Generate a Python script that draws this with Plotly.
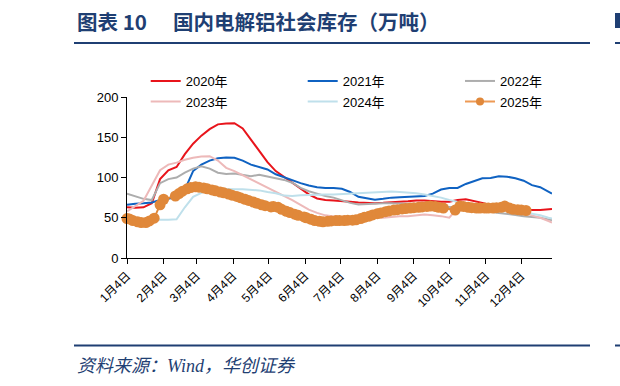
import plotly.graph_objects as go

# ---------------- data ----------------
WEEK_DATES = ["01-04", "01-11", "01-18", "01-25", "02-01", "02-08", "02-15", "02-22",
              "03-01", "03-08", "03-15", "03-22", "03-29", "04-05", "04-12", "04-19",
              "04-26", "05-03", "05-10", "05-17", "05-24", "05-31", "06-07", "06-14",
              "06-21", "06-28", "07-05", "07-12", "07-19", "07-26", "08-02", "08-09",
              "08-16", "08-23", "08-30", "09-06", "09-13", "09-20", "09-27", "10-04",
              "10-11", "10-18", "10-25", "11-01", "11-08", "11-15", "11-22", "11-29",
              "12-06", "12-13", "12-20", "12-27", "12-30"]

Y2020 = [63, 62.5, 63, 68, 98, 109, 113, 129, 142, 152, 160, 166, 167, 167.5, 161, 147,
         132, 119, 108, 101, 94, 86, 79, 74, 72, 71.5, 71, 70, 69, 68.5, 68, 68.5,
         69.5, 70, 70.5, 71.5, 71.5, 70.5, 70, 70, 72, 73, 71, 68.5, 66, 64,
         62.5, 61, 60, 59.5, 59.5, 60, 61]
Y2021 = [66, 67.5, 68, 69, 72, 74, 75.5, 85, 108, 116, 121, 124, 125, 124.5, 121, 116,
         113, 110, 104, 100, 96, 93, 90, 88, 87, 87, 86, 82, 76, 74, 72.5, 73.5,
         75, 75.5, 76, 76, 77, 80, 85, 87, 87, 92, 95.5, 99, 99.5, 101.5,
         101, 99, 96, 90.5, 88, 83, 80]
Y2022 = [80, 77, 73.5, 72, 93, 98, 100, 106, 111, 114, 111, 106, 104.5, 105, 103, 101.5,
         103.5, 101, 99, 97, 93.5, 87, 83, 80, 77, 75, 72, 68.5, 66.5, 67, 68, 68,
         68, 68, 67.5, 67, 66.5, 66, 64.5, 63, 62, 61, 60, 59, 57.5, 56,
         55, 53.5, 52, 51, 50, 48, 47]
Y2023 = [58, 65, 71, 90, 109, 116, 118.5, 122, 124.5, 126, 126.5, 121, 112, 108, 103, 97,
         92, 87, 82.5, 77, 72, 66, 60, 56, 53, 51.5, 50.5, 50, 50, 49.5, 50, 50,
         51, 52, 52, 53, 54, 53, 52, 50, 62, 65, 64, 63, 62, 61,
         60, 58, 56, 53, 50, 46, 44]
Y2024 = [48, 46.5, 45.5, 46.5, 47.5, 47.5, 48, 63, 76, 81, 85, 86, 85.5, 85.5, 85.5, 85,
         84, 82, 80.5, 77.5, 77, 78, 78.5, 79, 79, 79, 79.5, 79.5, 80, 80.5, 81, 82,
         82.5, 82, 81.5, 80.5, 79, 77, 75, 72, 69.5, 67, 65, 63, 62, 61,
         60, 58.5, 57, 55, 53, 50, 49]

DATES_2025 = ["01-04", "01-06", "01-09", "01-13", "01-16", "01-20", "01-23", "01-27",
              "02-01", "02-04", "02-14", "02-17", "02-20", "02-24", "02-27", "03-03",
              "03-06", "03-10", "03-13", "03-17", "03-20", "03-24", "03-27", "03-31",
              "04-03", "04-07", "04-10", "04-14", "04-17", "04-21", "04-24", "04-28",
              "05-01", "05-06", "05-08", "05-12", "05-15", "05-19", "05-22", "05-26",
              "05-29", "06-03", "06-05", "06-09", "06-12", "06-16", "06-19", "06-23",
              "06-26", "06-30", "07-03", "07-07", "07-10", "07-14", "07-17", "07-21",
              "07-24", "07-28", "07-31", "08-04", "08-07", "08-11", "08-14", "08-18",
              "08-21", "08-25", "08-28", "09-01", "09-04", "09-08", "09-11", "09-15",
              "09-18", "09-22", "09-25", "09-29", "10-09", "10-13", "10-16", "10-20",
              "10-23", "10-27", "10-30", "11-03", "11-06", "11-10", "11-13", "11-17",
              "11-20", "11-24", "11-27", "12-01", "12-04", "12-08"]
Y2025 = [49, 48.5, 46.5, 45, 44, 44, 46, 49.5,
         66, 73, 77, 80, 83, 86, 87.5, 88.5,
         88, 87, 86, 84.5, 83.5, 82, 81, 79.5,
         78, 76.5, 75, 73, 71.5, 69.5, 68, 66,
         65, 63.5, 64, 63, 60.5, 58, 56.5, 54.5,
         53, 51, 50, 48, 46.5, 45.5, 45, 45.5,
         46, 46.5, 46.5, 46.5, 47, 47, 47.5, 49,
         50.5, 52, 53.5, 55, 56, 57.5, 58.5, 59.5,
         60, 61, 61.5, 62, 62.5, 63, 63.5, 64,
         64.5, 64, 63, 62, 59.5, 64.5, 64, 63,
         62.5, 62, 62, 62, 62, 62, 62.5, 63,
         64.5, 62, 60.5, 60, 59.5, 59]

TICK_DATES = ["01-04", "02-04", "03-04", "04-04", "05-04", "06-04",
              "07-04", "08-04", "09-04", "10-04", "11-04", "12-04"]
TICK_TEXT = ["1月4日", "2月4日", "3月4日", "4月4日", "5月4日", "6月4日",
             "7月4日", "8月4日", "9月4日", "10月4日", "11月4日", "12月4日"]

SERIES = [
    ("2020年", Y2020, "#E8141B"),
    ("2021年", Y2021, "#0F62C2"),
    ("2022年", Y2022, "#ADADAD"),
    ("2023年", Y2023, "#EDB9B9"),
    ("2024年", Y2024, "#BFE0EB"),
]
ORANGE = "#E0883A"

# ---------------- layout geometry ----------------
W, H = 620, 386
ML, MR, MT, MB = 127, 68, 97, 128
PW, PH = W - ML - MR, H - MT - MB
NAVY = "#1F3F73"
FONT = "Liberation Sans, Arial, Noto Sans CJK SC, sans-serif"


def px_x(px):
    return (px - ML) / PW


def px_y(py):
    return (H - MB - py) / PH


def d(md):
    return "2025-" + md


fig = go.Figure()
legend_names = ["legend", "legend2", "legend3", "legend4", "legend5", "legend6"]
for i, (name, vals, col) in enumerate(SERIES):
    fig.add_trace(go.Scatter(
        x=[d(m) for m in WEEK_DATES], y=vals, mode="lines", name=name,
        line=dict(color=col, width=2), legend=legend_names[i]))

fig.add_trace(go.Scatter(
    x=[d(m) for m in DATES_2025], y=Y2025, mode="lines+markers", name="2025年",
    line=dict(color=ORANGE, width=2), marker=dict(color=ORANGE, size=11, line=dict(width=0)),
    cliponaxis=False, showlegend=False))
# legend entry for 2025 (smaller marker, as in the reference legend)
fig.add_trace(go.Scatter(
    x=[None], y=[None], mode="lines+markers", name="2025年",
    line=dict(color="#EE9A55", width=2), marker=dict(color=ORANGE, size=8, line=dict(width=0)),
    legend="legend6", hoverinfo="skip"))

# legends: 3 columns x 2 rows
leg_pos = [(145.7, 81), (302.7, 81), (460, 81), (145.7, 101.5), (302.7, 101.5), (460, 101.5)]
layout_legends = {}
for ln, (lx, ly) in zip(legend_names, leg_pos):
    layout_legends[ln] = dict(
        x=lx / W, xref="container", xanchor="left",
        y=1 - ly / H, yref="container", yanchor="middle",
        bgcolor="rgba(0,0,0,0)", borderwidth=0,
        font=dict(family=FONT, size=13, color="#000000"),
        orientation="h", itemsizing="trace")

fig.update_layout(
    width=W, height=H,
    margin=dict(l=ML, r=MR, t=MT, b=MB, pad=0, autoexpand=False),
    paper_bgcolor="white", plot_bgcolor="white",
    showlegend=True,
    font=dict(family=FONT, size=13, color="#000000"),
    **layout_legends,
)

fig.update_xaxes(
    type="date", range=[d("01-04"), d("12-30")],
    tickmode="array", tickvals=[d(m) for m in TICK_DATES], ticktext=TICK_TEXT,
    tickangle=-45, ticks="outside", ticklen=5, tickcolor="#000000", tickwidth=1,
    showline=True, linecolor="#000000", linewidth=1, showgrid=False, zeroline=False,
    tickfont=dict(family=FONT, size=12, color="#000000"), automargin=False,
)
fig.update_yaxes(
    range=[0, 200], tickmode="linear", tick0=0, dtick=50,
    ticks="outside", ticklen=5, tickcolor="#000000", tickwidth=1,
    showline=True, linecolor="#000000", linewidth=1, showgrid=False, zeroline=False,
    tickfont=dict(family=FONT, size=13, color="#000000"), automargin=False,
)

# title, rules and source
TITLE_FONT = dict(family="Noto Sans CJK SC, sans-serif", size=20.5, color=NAVY, weight="bold")
fig.add_annotation(x=px_x(75), y=px_y(21), xref="paper", yref="paper", text="图表 10",
                   showarrow=False, xanchor="left", yanchor="middle", font=TITLE_FONT)
fig.add_annotation(x=px_x(171), y=px_y(21), xref="paper", yref="paper",
                   text="国内电解铝社会库存（万吨）",
                   showarrow=False, xanchor="left", yanchor="middle", font=TITLE_FONT)
fig.add_annotation(x=px_x(75), y=px_y(366), xref="paper", yref="paper",
                   text="资料来源：Wind，华创证券", showarrow=False,
                   xanchor="left", yanchor="middle",
                   font=dict(family="Liberation Serif, Noto Sans CJK SC, serif", size=18,
                             color=NAVY, style="italic"))
for yy in (43, 345.5):
    fig.add_shape(type="line", xref="paper", yref="paper",
                  x0=px_x(74), x1=px_x(590), y0=px_y(yy), y1=px_y(yy),
                  line=dict(color=NAVY, width=2))
    fig.add_shape(type="line", xref="paper", yref="paper",
                  x0=px_x(615), x1=px_x(621), y0=px_y(yy), y1=px_y(yy),
                  line=dict(color=NAVY, width=2))
fig.add_shape(type="rect", xref="paper", yref="paper",
              x0=px_x(615), x1=px_x(621), y0=px_y(28), y1=px_y(13),
              fillcolor=NAVY, line=dict(width=0))

fig.write_html("out.html")
